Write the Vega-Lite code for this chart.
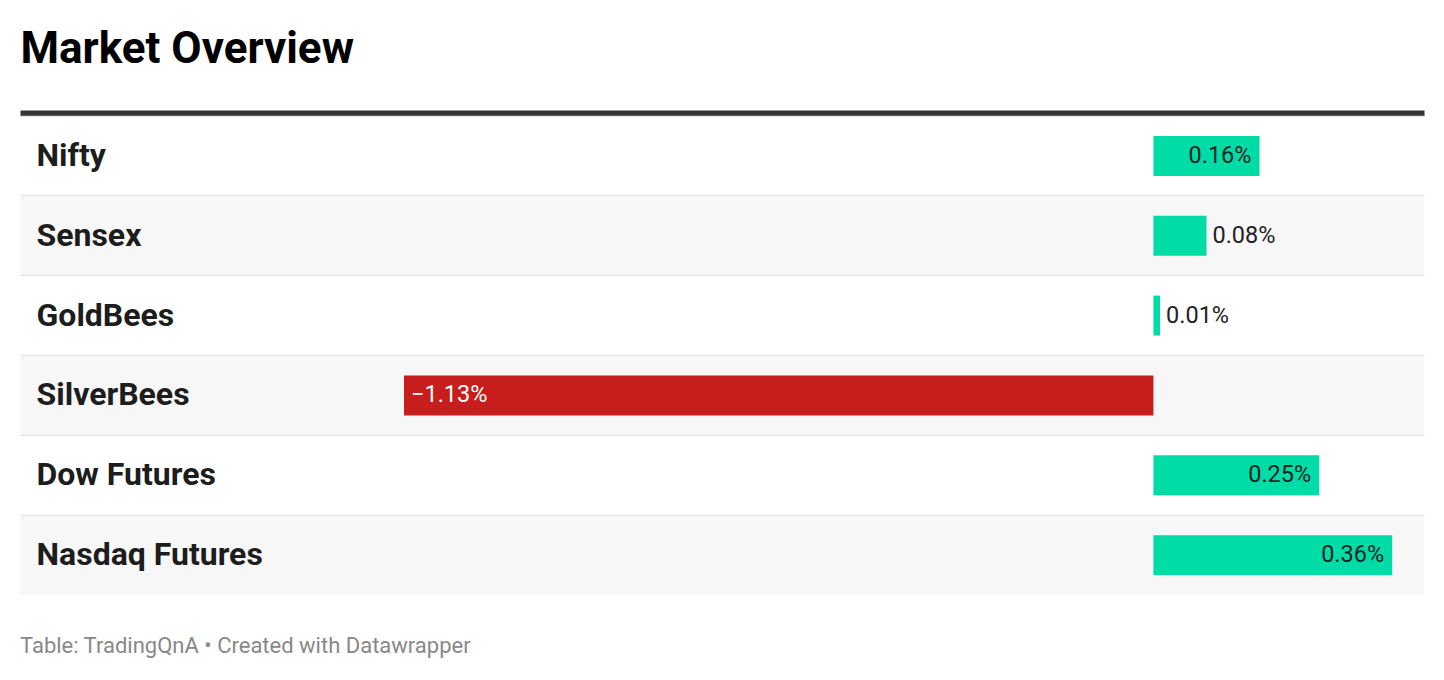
{
  "$schema": "https://vega.github.io/schema/vega-lite/v6.json",
  "width": 1404,
  "height": 479,
  "autosize": {"type": "none"},
  "padding": {"left": 20, "top": 116, "right": 20, "bottom": 85},
  "background": "#ffffff",
  "title": {
    "text": "Table: TradingQnA • Created with Datawrapper",
    "orient": "bottom",
    "anchor": "start",
    "offset": 41,
    "font": "Roboto",
    "fontSize": 22,
    "fontWeight": "normal",
    "color": "#888888"
  },
  "data": {
    "values": [
      {"name": "Nifty", "change": 0.16},
      {"name": "Sensex", "change": 0.08},
      {"name": "GoldBees", "change": 0.01},
      {"name": "SilverBees", "change": -1.13},
      {"name": "Dow Futures", "change": 0.25},
      {"name": "Nasdaq Futures", "change": 0.36}
    ]
  },
  "transform": [
    {"window": [{"op": "row_number", "as": "rn"}]},
    {"calculate": "format(datum.change, '.2f') + '%'", "as": "label"}
  ],
  "config": {
    "view": {"stroke": null},
    "axisX": {
      "orient": "top",
      "domain": true,
      "domainColor": "#333333",
      "domainWidth": 6,
      "ticks": false,
      "labels": false,
      "grid": false,
      "offset": 3,
      "titleAnchor": "start",
      "titleAlign": "left",
      "titleFont": "Roboto",
      "titleFontSize": 44,
      "titleFontWeight": "bold",
      "titleColor": "#000000",
      "titleBaseline": "alphabetic",
      "titlePadding": 51
    }
  },
  "encoding": {
    "y": {
      "field": "name",
      "type": "nominal",
      "sort": null,
      "title": null,
      "scale": {"paddingInner": 0, "paddingOuter": 0},
      "axis": {
        "orient": "left",
        "domain": false,
        "ticks": false,
        "labelAlign": "left",
        "labelPadding": -16,
        "labelFont": "Roboto",
        "labelFontSize": 32,
        "labelFontWeight": "bold",
        "labelColor": "#1d1d1d",
        "labelBaseline": "middle",
        "labelLimit": 500,
        "labelBound": false,
        "grid": true,
        "gridColor": "#e6e6e6",
        "gridWidth": 1.5,
        "bandPosition": 0,
        "zindex": 1,
        "minExtent": 0,
        "maxExtent": 0
      }
    }
  },
  "layer": [
    {
      "mark": {"type": "rect"},
      "encoding": {
        "color": {
          "condition": {"test": "datum.rn % 2 == 0", "value": "#f7f7f7"},
          "value": "#ffffff"
        }
      }
    },
    {
      "mark": {"type": "bar", "height": {"band": 0.5}},
      "encoding": {
        "x": {
          "field": "change",
          "type": "quantitative",
          "title": "Market Overview",
          "scale": {"domain": [-1.709, 0.408], "nice": false, "zero": false}
        },
        "color": {
          "condition": {"test": "datum.change < 0", "value": "#c71e1d"},
          "value": "#00dca6"
        }
      }
    },
    {
      "mark": {"type": "rule", "color": "#000000", "opacity": 0.6, "strokeWidth": 1.5},
      "encoding": {
        "x": {"datum": 0, "type": "quantitative", "title": "Market Overview"}
      }
    },
    {
      "transform": [{"filter": "datum.change >= 0.12"}],
      "mark": {"type": "text", "align": "right", "baseline": "middle", "dx": -8, "font": "Roboto", "fontSize": 23.5, "color": "#222222"},
      "encoding": {
        "x": {"field": "change", "type": "quantitative", "title": "Market Overview"},
        "text": {"field": "label"}
      }
    },
    {
      "transform": [{"filter": "datum.change >= 0 && datum.change < 0.12"}],
      "mark": {"type": "text", "align": "left", "baseline": "middle", "dx": 6, "font": "Roboto", "fontSize": 23.5, "color": "#222222"},
      "encoding": {
        "x": {"field": "change", "type": "quantitative", "title": "Market Overview"},
        "text": {"field": "label"}
      }
    },
    {
      "transform": [{"filter": "datum.change < 0"}],
      "mark": {"type": "text", "align": "left", "baseline": "middle", "dx": 7, "font": "Roboto", "fontSize": 23.5, "color": "#ffffff"},
      "encoding": {
        "x": {"field": "change", "type": "quantitative", "title": "Market Overview"},
        "text": {"field": "label"}
      }
    }
  ]
}
